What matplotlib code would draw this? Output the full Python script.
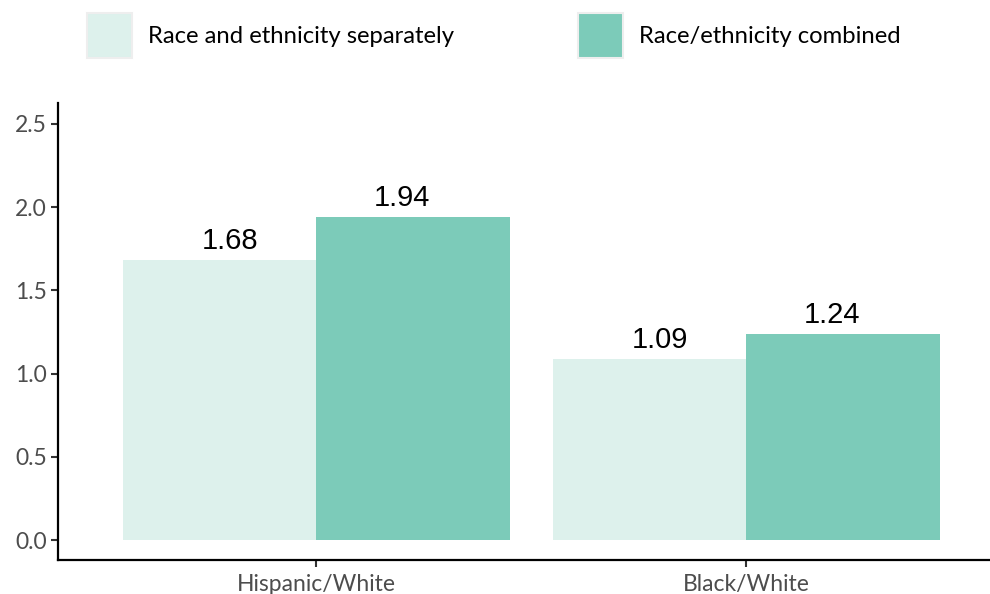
import matplotlib
matplotlib.use("Agg")
import matplotlib.pyplot as plt
import numpy as np
from matplotlib.patches import Patch

categories = ["Hispanic/White", "Black/White"]
separately = [1.68, 1.09]
combined = [1.94, 1.24]
series_names = ["Race and ethnicity separately", "Race/ethnicity combined"]
yticks = [0.0, 0.5, 1.0, 1.5, 2.0, 2.5]

c_light = "#ddf1ec"
c_dark = "#7ccbb9"

fig = plt.figure(figsize=(9.9, 5.94), dpi=100)
ax = fig.add_axes([58/990, 1-560/594, (990-58)/990, (560-103)/594])

x = np.arange(len(categories))
w = 0.45
lab_off = 0.2
ax.bar(x - w/2, separately, w, color=c_light)
ax.bar(x + w/2, combined, w, color=c_dark)
for off, vals in ((-lab_off, separately), (lab_off, combined)):
    for xi, v in zip(x, vals):
        ax.text(xi + off, v + 0.03, f"{v:.2f}", ha="center", va="bottom",
                fontsize=21, family="Liberation Sans", color="black")

ax.set_xlim(-0.6, 1 + (990-746)/430)
ax.set_ylim(-0.12, 2.626)
ax.set_xticks(x)
ax.set_xticklabels(categories)
ax.set_yticks(yticks)
ax.set_yticklabels([f"{t:.1f}" for t in yticks])
for s in ("top", "right"):
    ax.spines[s].set_visible(False)
for s in ("left", "bottom"):
    ax.spines[s].set_linewidth(1.6)
    ax.spines[s].set_color("black")
ax.tick_params(axis="both", length=5, width=1.5, color="#333333", labelcolor="#4d4d4d",
               labelsize=16.5, pad=3)
ax.tick_params(axis="x", pad=5)
for lab in ax.get_xticklabels() + ax.get_yticklabels():
    lab.set_family("Lato")

handles = [Patch(facecolor=c_light, edgecolor="#eeeeee", linewidth=1.5),
           Patch(facecolor=c_dark, edgecolor="#eeeeee", linewidth=1.5)]
fs = 17.2
u = fs * 100 / 72
leg = fig.legend(handles, series_names, loc="upper left", bbox_to_anchor=(87/990, 1-13/594),
                 ncol=2, frameon=False, prop={"family": "Lato", "size": fs},
                 handlelength=45/u, handleheight=2.5, handletextpad=16/u, columnspacing=124/u,
                 borderaxespad=0, borderpad=0)

fig.savefig("out.png", dpi=100)
